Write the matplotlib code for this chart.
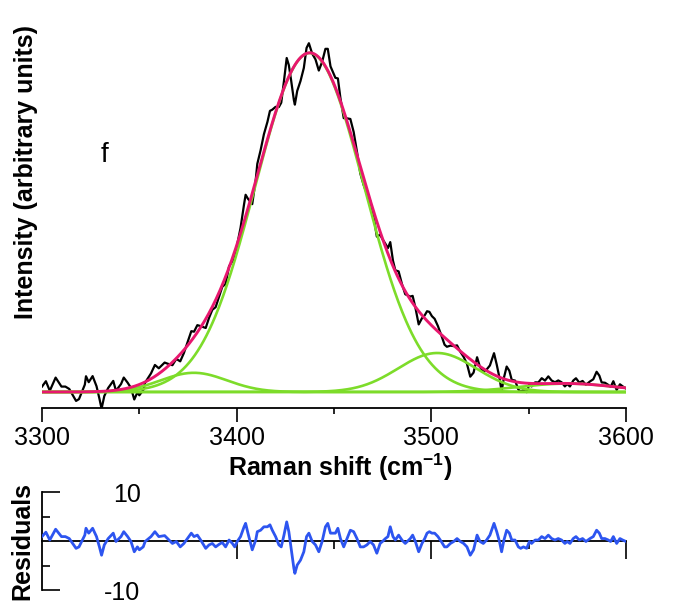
import numpy as np
import matplotlib
matplotlib.use("Agg")
import matplotlib.pyplot as plt

plt.rcParams['font.family'] = ['Liberation Sans', 'DejaVu Sans']
plt.rcParams['axes.unicode_minus'] = False
plt.rcParams['mathtext.fontset'] = 'custom'
plt.rcParams['mathtext.rm'] = 'Liberation Sans'

# fitted components: centre (cm-1), height, width (sigma)
comp_centre = [3378.0, 3437.5, 3503.0, 3570.0]
comp_height = [3.2, 56.5, 6.5, 1.4]
comp_sigma = [17.0, 28.0, 20.0, 25.0]

# residuals
shift = [3300.0, 3302.0, 3304.0, 3307.0, 3310.0, 3312.0, 3314.0, 3317.5, 3319.0, 3322.0,
         3322.6, 3324.0, 3326.0, 3328.0, 3329.5, 3330.6, 3332.0, 3334.0, 3336.6, 3338.0,
         3340.6, 3342.0, 3344.0, 3345.7, 3347.4, 3349.0, 3350.0, 3352.0, 3353.0, 3356.0,
         3358.0, 3360.0, 3363.0, 3364.5, 3367.0, 3369.0, 3371.0,
         3372.9, 3374.7, 3376.7, 3378.1, 3379.8, 3381.5, 3384.1, 3385.8, 3387.5, 3389.2,
         3390.9, 3392.6, 3394.3, 3396.1, 3397.8, 3399.0, 3400.3, 3402.0, 3403.8, 3404.6,
         3405.8, 3408.0, 3409.8, 3410.6, 3412.3, 3414.0, 3415.8, 3417.1, 3418.3, 3420.0,
         3421.7, 3422.9, 3424.3, 3425.7, 3426.8, 3428.0, 3429.4, 3429.9, 3431.1, 3432.8,
         3434.5, 3435.9, 3437.1, 3438.8, 3440.5, 3442.2, 3443.9, 3445.6, 3446.8, 3448.2,
         3450.7, 3452.0, 3453.3, 3455.0, 3456.7, 3458.4, 3460.1, 3461.8, 3463.5, 3465.2,
         3466.9, 3468.6, 3470.3, 3472.0, 3473.7, 3474.9, 3476.4, 3477.7, 3478.9, 3480.3,
         3481.5, 3483.2, 3484.9, 3486.6, 3489.2, 3490.4, 3491.8, 3493.5, 3495.2, 3496.6,
         3497.8, 3499.0, 3500.3, 3501.7, 3503.4, 3505.1, 3506.8, 3508.0, 3509.8, 3511.5,
         3513.2, 3514.9, 3516.6, 3518.3, 3520.0, 3521.7, 3523.5,
         3525.0, 3526.7, 3528.4, 3530.1, 3532.2, 3533.6, 3535.0, 3536.1, 3537.3, 3538.7,
         3540.1, 3541.3, 3543.0, 3544.7, 3545.9, 3547.3, 3549.0, 3550.4, 3551.5, 3553.3,
         3555.0, 3556.7, 3558.4, 3560.1, 3561.8, 3563.5, 3565.2, 3566.9, 3568.6, 3569.8,
         3571.2, 3572.9, 3574.3, 3576.0, 3577.7, 3579.4, 3581.5, 3583.2, 3584.9, 3586.3,
         3587.5, 3589.2, 3590.9, 3592.1, 3593.5, 3595.2, 3596.9, 3598.3, 3600.0]
resid = [0.9, 1.8, 0.2, 2.4, 0.9, 0.9, 0.5, -1.5, -1.2, 1.2,
         2.6, 1.6, 2.6, 0.9, -1.2, -2.9, -0.8, 0.5, 1.6, -0.1,
         0.9, 1.9, 0.9, -0.1, -2.2, -1.2, -1.8, -1.2, -0.1, 0.9,
         1.9, 0.9, 1.1, 0.5, -0.5, -0.1, -1.2,
         -0.5, 0.5, 1.6, 0.9, 1.2, 0.2, -1.5, -0.8, -0.5, -1.2,
         -0.7, -0.3, -1.2, 0.2, -0.5, -1.2, -0.1, 0.9, 2.9, 3.6,
         1.6, -1.8, 0.2, 1.9, 2.2, 2.9, 2.9, 3.3, 2.2, 0.9,
         -0.8, -1.2, 1.2, 3.9, 1.9, -1.5, -5.6, -6.6, -4.9, -3.9,
         -2.2, 0.9, 1.6, -0.1, -0.8, -2.2, -0.1, 2.9, 3.6, 1.6,
         1.6, 2.6, 0.5, -1.2, 0.5, 2.2, 1.9, 0.5, -1.2, -1.2,
         -0.8, -0.1, -0.8, -2.5, -0.5, -0.1, 0.5, 0.9, 2.9, 0.9,
         0.2, 1.2, 0.2, -0.5, 0.5, 1.2, -0.1, -2.2, -0.5, 0.5,
         1.6, 1.9, 1.6, 1.6, 0.9, -0.1, -1.2, -1.2, -0.5, -0.1,
         0.5, -0.1, -0.5, -1.2, -2.9, -1.8, 1.2,
         -0.1, -0.5, 0.2, 1.2, 3.6, 1.9, -0.1, -2.2, 0.2, 2.2,
         1.6, 0.2, 0.2, -1.2, -1.5, -1.2, -1.5, -0.1, -0.5, 0.2,
         0.2, 0.9, 0.5, 1.2, 0.5, 0.2, 0.5, 0.2, -0.5, -0.1,
         -0.5, 0.5, 0.9, 0.2, 0.5, -0.1, 0.5, 0.9, 2.2, 1.6,
         0.5, 0.5, 0.2, -0.1, 0.9, -0.5, 0.5, 0.2, -0.1]

xticks_major = [3300, 3400, 3500, 3600]
xticks_minor = [3350, 3450, 3550]


def gauss(x, c, h, s):
    return h * np.exp(-(x - c) ** 2 / (2 * s * s))


def fit(x):
    return sum(gauss(x, c, h, s) for c, h, s in zip(comp_centre, comp_height, comp_sigma))


shift = np.array(shift)
resid = np.array(resid)
data = fit(shift) + resid

xs = np.linspace(3300, 3600, 601)

fig = plt.figure(figsize=(6.75, 6.03), dpi=100)

# main panel
ax = fig.add_axes([42/675, 195/603, 584/675, 388/603])
ax.plot(shift, data, color='black', lw=1.6, zorder=2)
for c, h, s in zip(comp_centre, comp_height, comp_sigma):
    ax.plot(xs, gauss(xs, c, h, s), color='#7ddc2a', lw=1.9, zorder=3)
ax.plot(xs, fit(xs), color='#e8176e', lw=2.1, zorder=4)
ax.set_xlim(3300, 3600)
ax.set_ylim(-16/6, -16/6 + 388/6)
for sp in ['top', 'right', 'left']:
    ax.spines[sp].set_visible(False)
ax.spines['bottom'].set_linewidth(1.3)
ax.set_yticks([])
ax.set_xticks(xticks_major)
ax.set_xticks(xticks_minor, minor=True)
ax.tick_params(axis='x', which='major', direction='out', length=10, width=1.2,
               labelsize=18, pad=3)
ax.tick_params(axis='x', which='minor', direction='out', length=4.5, width=1.2)
ax.text(3332, 39.5, 'f', fontsize=20, ha='center', va='center')

# residuals panel
ax2 = fig.add_axes([42/675, 13/603, 584/675, 98/603])
ax2.plot(shift, resid, color='#2d55f0', lw=2.0, zorder=3)
ax2.set_xlim(3300, 3600)
ax2.set_ylim(-10, 10)
ax2.spines['top'].set_visible(False)
ax2.spines['right'].set_visible(False)
ax2.spines['bottom'].set_position(('data', 0))
ax2.spines['bottom'].set_linewidth(1.3)
ax2.spines['left'].set_linewidth(1.3)
ax2.set_xticks([3400, 3500, 3600])
ax2.set_xticks([3450, 3550], minor=True)
ax2.tick_params(axis='x', which='major', direction='out', length=13, width=1.2,
                labelbottom=False)
ax2.tick_params(axis='x', which='minor', direction='out', length=6, width=1.2)
ax2.set_yticks([-10, 10])
ax2.set_yticks([-5, 5], minor=True)
ax2.tick_params(axis='y', which='major', direction='in', length=13, width=1.2,
                labelsize=18, pad=-71)
ax2.tick_params(axis='y', which='minor', direction='in', length=6, width=1.2)

fig.text(26/675, 1 - 172/603, 'Intensity (arbitrary units)', rotation=90,
         ha='center', va='center', fontsize=18, fontweight='bold')
fig.text(340/675, 1 - 467/603, r'Raman shift (cm$^{\mathregular{-1}}$)',
         ha='center', va='center', fontsize=18, fontweight='bold')
fig.text(22/675, 1 - 541/603, 'Residuals', rotation=90,
         ha='center', va='center', fontsize=18, fontweight='bold')

fig.savefig('out.png', dpi=100, facecolor='white')
